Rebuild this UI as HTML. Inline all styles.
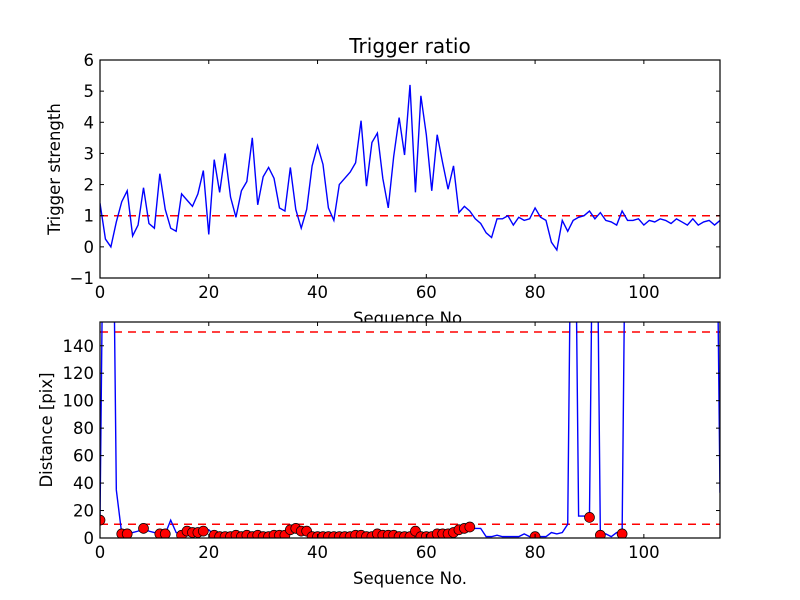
<!DOCTYPE html>
<html><head><meta charset="utf-8"><style>
html,body{margin:0;padding:0;background:#fff;}
svg{display:block;font-family:"DejaVu Sans","Liberation Sans",sans-serif;}
</style></head><body>
<svg id="fig" width="800" height="600" viewBox="0 0 800 600" xmlns="http://www.w3.org/2000/svg">
<rect width="800" height="600" fill="#fff"/>
</svg>
<script>
const ratio = [1.4,0.25,0.0,0.8,1.45,1.8,0.35,0.7,1.9,0.75,0.6,2.35,1.2,0.6,0.5,1.7,1.5,1.3,1.7,2.45,0.4,2.8,1.75,3.0,1.6,0.95,1.8,2.1,3.5,1.35,2.25,2.55,2.2,1.25,1.15,2.55,1.2,0.6,1.2,2.6,3.25,2.65,1.25,0.85,2.0,2.2,2.4,2.7,4.05,1.95,3.35,3.65,2.2,1.25,2.9,4.15,2.95,5.2,1.75,4.85,3.6,1.8,3.6,2.7,1.85,2.6,1.1,1.3,1.15,0.9,0.75,0.45,0.3,0.9,0.9,1.0,0.7,0.95,0.85,0.9,1.25,0.95,0.85,0.15,-0.1,0.85,0.5,0.85,0.95,1.0,1.15,0.9,1.1,0.85,0.8,0.7,1.15,0.85,0.85,0.9,0.7,0.85,0.8,0.9,0.85,0.75,0.9,0.8,0.7,0.9,0.7,0.8,0.85,0.7,0.85];
const dist = [13,400,400,35,3,3,4,5,7,5,4,3,3,13,4,2,5,4,4,5,6,2,1,1,1,2,1,2,1,2,1,1,2,2,2,6,7,5,5,1,1,1,1,1,1,1,1,2,2,1,1,3,2,2,2,1,1,1,5,1,1,1,3,3,3,4,6,7,8,7,7,1,1,2,1,1,1,1,3,1,1,1,1,4,3,4,10,400,16,16,15,400,2,3,1,4,3,400,400,400,400,400,400,400,400,400,400,400,400,400,400,400,400,400,33];
const dotIdx = [0,4,5,8,11,12,15,16,17,18,19,21,22,23,24,25,26,27,28,29,30,31,32,33,34,35,36,37,38,39,40,41,42,43,44,45,46,47,48,49,50,51,52,53,54,55,56,57,58,59,60,61,62,63,64,65,66,67,68,80,90,92,96];
const xTicks = [0,20,40,60,80,100];
const yTicksTop = [-1,0,1,2,3,4,5,6];
const yTicksBot = [0,20,40,60,80,100,120,140];
const thrTop = [1];
const thrBot = [10,150];

const NS='http://www.w3.org/2000/svg';
const svg=document.getElementById('fig');
function el(t,a,p){const e=document.createElementNS(NS,t);for(const k in a)e.setAttribute(k,a[k]);(p||svg).appendChild(e);return e;}
const L=100,R=720,XMAX=114;
const xs=v=>L+(v/XMAX)*(R-L);
function makeAxes(name,top,bot,ymin,ymax,yticks){
  const ys=v=>bot-(v-ymin)/(ymax-ymin)*(bot-top);
  return {ys,top,bot,ymin,ymax,yticks,name};
}
const A1=makeAxes('top',60,278,-1,6,yTicksTop);
const A2=makeAxes('bottom',322,538,0,157.3,yTicksBot);

const defs=el('defs',{});
[A1,A2].forEach((A,k)=>{const c=el('clipPath',{id:'clip'+k},defs);el('rect',{x:L,y:A.top,width:R-L,height:A.bot-A.top},c);});

function drawFrame(A,k){
  const g=el('g',{});
  
  
  el('rect',{x:L,y:A.top,width:R-L,height:A.bot-A.top,fill:'#fff'},g);
  return g;
}
function drawTicks(A){
  const g=el('g',{});
  
  
  el('rect',{x:L,y:A.top,width:R-L,height:A.bot-A.top,fill:'none',stroke:'#000','stroke-width':1.2},g);
  xTicks.forEach(t=>{const x=xs(t);
    el('line',{x1:x,x2:x,y1:A.bot,y2:A.bot-4,stroke:'#000'},g);
    el('line',{x1:x,x2:x,y1:A.top,y2:A.top+4,stroke:'#000'},g);
    const tx=el('text',{x:x,y:A.bot+20,'font-size':16.5,'text-anchor':'middle'},g);tx.textContent=t;
    
    
  });
  A.yticks.forEach(t=>{const y=A.ys(t);
    el('line',{x1:L,x2:L+4,y1:y,y2:y,stroke:'#000'},g);
    el('line',{x1:R,x2:R-4,y1:y,y2:y,stroke:'#000'},g);
    const tx=el('text',{x:L-6,y:y+6,'font-size':16.5,'text-anchor':'end'},g);tx.textContent=(t<0?'\u2212'+(-t):t);
    
    
  });
}
function drawThr(A,vals,k){
  vals.forEach(v=>{const l=el('line',{x1:L,x2:R,y1:A.ys(v),y2:A.ys(v),stroke:'#f00','stroke-width':1.5,'stroke-dasharray':'8,6','clip-path':'url(#clip'+k+')'});
    
    });
}
function drawLine(A,data,k,name){
  const d=data.map((v,i)=>(i?'L':'M')+xs(i).toFixed(2)+','+A.ys(v).toFixed(2)).join('');
  const p=el('path',{d:d,fill:'none',stroke:'#00f','stroke-width':1.4,'clip-path':'url(#clip'+k+')'});
  
  
}
function label(txt,x,y,size,rot,name){
  const t=el('text',{x:x,y:y,'font-size':size,'text-anchor':'middle'});
  if(rot)t.setAttribute('transform','rotate(-90 '+x+' '+y+')');
  t.textContent=txt;
  
  
}

// top
drawFrame(A1,0);
drawThr(A1,thrTop,0);
drawLine(A1,ratio,0,'trigger-ratio-line');
drawTicks(A1);
label('Trigger ratio',410,53,20,false,'chart-title');
label('Trigger strength',60,169,16.5,true,'top-y-axis-title');
label('Sequence No.',410,324,16.5,false,'top-x-axis-title');

// bottom
drawFrame(A2,1);
drawThr(A2,thrBot,1);
drawLine(A2,dist,1,'distance-line');
const dg=el('g',{'clip-path':'url(#clip1)'});


dotIdx.forEach(i=>{const c=el('circle',{cx:xs(i),cy:A2.ys(dist[i]),r:5,fill:'#f00',stroke:'#000','stroke-width':0.7},dg);
  
  });
drawTicks(A2);
label('Distance [pix]',52,430,16.5,true,'bottom-y-axis-title');
label('Sequence No.',410,584,16.5,false,'bottom-x-axis-title');
</script>
</body></html>
